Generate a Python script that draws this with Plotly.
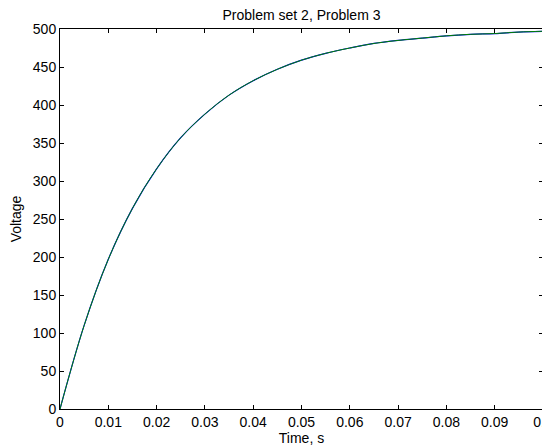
import plotly.graph_objects as go

# values
time_s = [0, 0.005, 0.01, 0.015, 0.02, 0.025, 0.03, 0.035, 0.04, 0.045, 0.05,
          0.055, 0.06, 0.065, 0.07, 0.075, 0.08, 0.085, 0.09, 0.095, 0.1]
voltage_a = [0, 110, 197, 264, 316, 357, 388, 413, 432, 447, 459,
             468, 475, 481, 485, 488, 491, 493, 494, 496, 497]
voltage_b = [0, 110, 197, 264, 316, 357, 388, 413, 432, 447, 459,
             468, 475, 481, 485, 488, 491, 493, 494, 496, 497]

x_ticks = [0, 0.01, 0.02, 0.03, 0.04, 0.05, 0.06, 0.07, 0.08, 0.09, 0.1]
x_labels = ["0", "0.01", "0.02", "0.03", "0.04", "0.05", "0.06", "0.07", "0.08", "0.09", "0.1"]
y_ticks = [0, 50, 100, 150, 200, 250, 300, 350, 400, 450, 500]

fig = go.Figure()
fig.add_trace(go.Scatter(x=time_s, y=voltage_a, mode="lines", line_shape="spline",
                         line=dict(color="#0000ff", width=1.2), showlegend=False))
fig.add_trace(go.Scatter(x=time_s, y=voltage_b, mode="lines", line_shape="spline",
                         line=dict(color="#008000", width=1), showlegend=False))

axis_style = dict(showline=True, linecolor="black", linewidth=1, mirror="ticks",
                  ticks="inside", ticklen=4, tickcolor="black", showgrid=False,
                  zeroline=False, automargin=False, ticklabeloverflow="allow",
                  tickfont=dict(size=14, color="black"))

# page body adds an 8px offset, so the figure is 8px smaller than the window
fig.update_layout(
    width=542, height=439,
    margin=dict(l=52, r=7, t=21, b=38),
    paper_bgcolor="white", plot_bgcolor="white",
    font=dict(family="Liberation Sans, Arial, sans-serif", color="black"),
    title=dict(text="Problem set 2, Problem 3", x=0.5, xanchor="center",
               xref="paper", y=1 - 2 / 439, yref="container", yanchor="top",
               pad=dict(t=0, b=0), font=dict(size=14)),
    xaxis=dict(range=[0, 0.1], tickvals=x_ticks, ticktext=x_labels,
               title=dict(text="Time, s", font=dict(size=14), standoff=0), **axis_style),
    yaxis=dict(range=[0, 500], tickvals=y_ticks,
               title=dict(text="Voltage", font=dict(size=14), standoff=8), **axis_style),
)

fig.write_html("out.html")
